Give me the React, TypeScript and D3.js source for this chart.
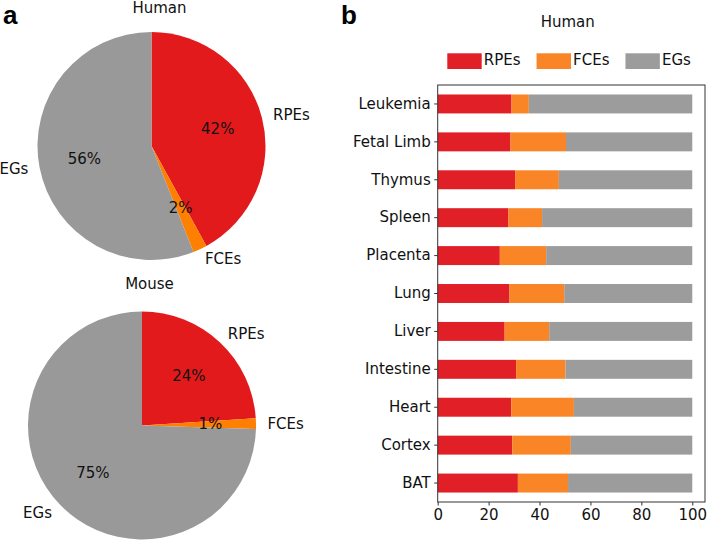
import React, { useEffect, useRef } from 'react';
import * as d3 from 'd3';

// pie data (percent)
const pieCategories = ['RPEs', 'FCEs', 'EGs'];
const humanShares = [42.0, 2.0, 56.0];
const mouseShares = [24.0, 1.49, 74.51];

// stacked bar data (percent of genes per tissue)
const tissues = ['Leukemia', 'Fetal Limb', 'Thymus', 'Spleen', 'Placenta', 'Lung', 'Liver', 'Intestine', 'Heart', 'Cortex', 'BAT'];
const rpeValues = [29.0, 28.6, 30.4, 27.8, 24.4, 28.2, 26.3, 30.8, 28.9, 29.3, 31.5];
const fceValues = [6.8, 21.8, 17.2, 13.2, 18.2, 21.5, 17.5, 19.4, 24.6, 23.0, 19.7];
const egValues = tissues.map((_, i) => 100 - rpeValues[i] - fceValues[i]);
const xTicks = [0, 20, 40, 60, 80, 100];

const pieColors = ['#E31A1C', '#FF7F00', '#999999'];
const barColors = ['#E01F27', '#F98526', '#9C9C9C'];
const FONT = 'DejaVu Sans, sans-serif';
const INK = '#111';

function App() {
    const ref = useRef<SVGSVGElement>(null);

    useEffect(() => {
        if (!ref.current) return;
        const svg = d3.select(ref.current);
        svg.selectAll('*').remove();

        // panel letters
        svg.append('text').attr('x', 3).attr('y', 24).text('a')
            .attr('font-family', 'Liberation Sans, Arial, sans-serif').attr('font-weight', 'bold').attr('font-size', 26);
        svg.append('text').attr('x', 341).attr('y', 24).text('b')
            .attr('font-family', 'Liberation Sans, Arial, sans-serif').attr('font-weight', 'bold').attr('font-size', 26);

        //-------------------------------- pies
        const drawPie = (title: string, shares: number[], cx: number, cy: number, r: number, tx: number, ty: number) => {
            const g = svg.append('g').attr('transform', `translate(${cx},${cy})`);
            const pie = d3.pie<number>().sort(null).value(d => d);
            const arcs = pie(shares);
            const arc = d3.arc<d3.PieArcDatum<number>>().innerRadius(0).outerRadius(r);
            const lblArc = d3.arc<d3.PieArcDatum<number>>().innerRadius(r * 1.1).outerRadius(r * 1.1);
            const pctArc = d3.arc<d3.PieArcDatum<number>>().innerRadius(r * 0.6).outerRadius(r * 0.6);

            g.selectAll('path').data(arcs).join('path')
                .attr('d', arc)
                .attr('fill', (_, i) => pieColors[i]);

            g.selectAll('text.lbl').data(arcs).join('text')
                .attr('class', 'lbl')
                .attr('x', d => lblArc.centroid(d)[0])
                .attr('y', d => lblArc.centroid(d)[1])
                .attr('text-anchor', d => (lblArc.centroid(d)[0] > 0 ? 'start' : 'end'))
                .attr('dominant-baseline', 'central')
                .attr('font-family', FONT).attr('font-size', 15).attr('fill', INK)
                .text((_, i) => pieCategories[i]);

            g.selectAll('text.pct').data(arcs).join('text')
                .attr('class', 'pct')
                .attr('x', d => pctArc.centroid(d)[0])
                .attr('y', d => pctArc.centroid(d)[1])
                .attr('text-anchor', 'middle')
                .attr('dominant-baseline', 'central')
                .attr('font-family', FONT).attr('font-size', 15).attr('fill', INK)
                .text(d => `${Math.round(d.data)}%`);

            svg.append('text').attr('x', tx).attr('y', ty)
                .attr('text-anchor', 'middle').attr('dominant-baseline', 'central')
                .attr('font-family', FONT).attr('font-size', 15).attr('fill', INK)
                .text(title);
        };

        drawPie('Human', humanShares, 151.5, 146, 114, 159.5, 8);
        drawPie('Mouse', mouseShares, 142, 425.5, 114, 149.5, 284);

        //-------------------------------- stacked bars
        const left = 437.7, right = 705, top = 85, bottom = 502;
        const x = d3.scaleLinear().domain([0, 105]).range([left, right]);
        const y = d3.scaleBand<string>().domain(tissues).range([top, bottom])
            .paddingInner(0.5).paddingOuter(0.25);

        const series = [rpeValues, fceValues, egValues];
        series.forEach((vals, s) => {
            svg.append('g')
                .attr('fill', barColors[s])
                .selectAll('rect')
                .data(tissues)
                .join('rect')
                .attr('x', (_, i) => x(series.slice(0, s).reduce((a, v) => a + v[i], 0)))
                .attr('y', t => y(t)!)
                .attr('width', (_, i) => x(vals[i]) - x(0))
                .attr('height', y.bandwidth());
        });

        svg.append('rect')
            .attr('x', left).attr('y', top)
            .attr('width', right - left).attr('height', bottom - top)
            .attr('fill', 'none').attr('stroke', '#333').attr('stroke-width', 1);

        const yAxis = svg.append('g')
            .attr('transform', `translate(${left},0)`)
            .call(d3.axisLeft(y).tickSize(3.5).tickPadding(3.5));
        const xAxis = svg.append('g')
            .attr('transform', `translate(0,${bottom})`)
            .call(d3.axisBottom(x).tickValues(xTicks).tickSize(3.5).tickPadding(4));
        [yAxis, xAxis].forEach(a => {
            a.select('.domain').remove();
            a.selectAll('line').attr('stroke', '#333');
            a.selectAll('text').attr('font-family', FONT).attr('font-size', 15).attr('fill', INK);
        });

        svg.append('text').attr('x', 567.7).attr('y', 22)
            .attr('text-anchor', 'middle').attr('dominant-baseline', 'central')
            .attr('font-family', FONT).attr('font-size', 15).attr('fill', INK)
            .text('Human');

        // legend
        let lx = 447.3;
        pieCategories.forEach((name, i) => {
            svg.append('rect')
                .attr('x', lx).attr('y', 53.3).attr('width', 34.4).attr('height', 15.7)
                .attr('fill', barColors[i]);
            const t = svg.append('text')
                .attr('x', lx + 36.5).attr('y', 60)
                .attr('dominant-baseline', 'central')
                .attr('font-family', FONT).attr('font-size', 15).attr('fill', INK)
                .text(name);
            const w = (t.node() as SVGTextElement).getComputedTextLength();
            lx += 34.4 + 2.5 + w + 15.6;
        });
    }, []);

    return (
        <svg
            ref={ref}
            width={709}
            height={542}
            style={{ position: 'absolute', left: 0, top: 0, background: 'white' }}
        />
    );
}

export default App;
